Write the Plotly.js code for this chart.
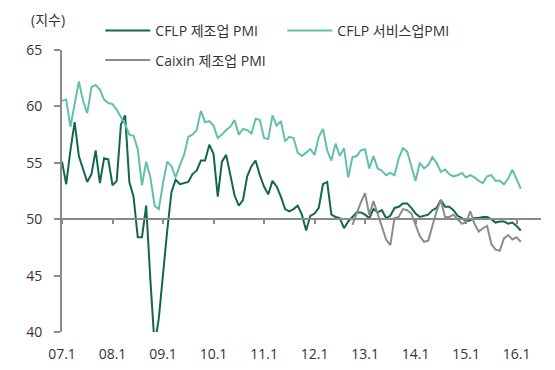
<!DOCTYPE html>
<html><head><meta charset="utf-8">
<script src="https://cdn.plot.ly/plotly-3.0.1.min.js"></script>
<style>html,body{margin:0;padding:0;background:#fff}#chart{width:555px;height:370px}</style>
</head><body><div id="chart"></div>
<script>
// Monthly categories 2007-01 .. 2016-02
const months = [];
for (let y = 2007; y <= 2016; y++) {
  for (let m = 1; m <= 12; m++) {
    if (y === 2016 && m > 2) break;
    months.push(y + '-' + String(m).padStart(2, '0'));
  }
}
const tickMonths = ['2007-01','2008-01','2009-01','2010-01','2011-01','2012-01','2013-01','2014-01','2015-01','2016-01'];
const tickLabels = ['07.1','08.1','09.1','10.1','11.1','12.1','13.1','14.1','15.1','16.1'];

const cflpMfg = [
  55.1,53.1,56.1,58.6,55.6,54.5,53.3,54.0,56.1,53.2,55.4,55.3,
  53.0,53.4,58.4,59.2,53.3,52.0,48.4,48.4,51.2,44.6,38.8,41.2,
  45.3,49.0,52.4,53.5,53.1,53.2,53.3,54.0,54.3,55.2,55.2,56.6,
  55.8,52.0,55.1,55.7,53.9,52.1,51.2,51.7,53.8,54.7,55.2,53.9,
  52.9,52.2,53.4,52.9,52.0,50.9,50.7,50.9,51.2,50.4,49.0,50.3,
  50.5,51.0,53.1,53.3,50.4,50.2,50.1,49.2,49.8,50.2,50.6,50.6,
  50.4,50.1,50.9,50.6,50.8,50.1,50.3,51.0,51.1,51.4,51.4,51.0,
  50.5,50.2,50.3,50.4,50.8,51.0,51.7,51.1,51.1,50.8,50.3,50.1,
  49.8,49.9,50.1,50.1,50.2,50.2,50.0,49.7,49.8,49.8,49.6,49.7,
  49.4,49.0
];
const cflpService = [
  60.5,60.6,58.2,60.3,62.2,60.5,59.4,61.7,61.9,61.5,60.6,60.3,
  60.2,59.7,59.0,58.4,57.5,57.4,56.2,53.0,55.1,53.7,51.2,50.9,
  53.2,55.1,54.7,53.7,54.8,55.7,57.3,57.5,57.9,59.6,58.6,58.7,
  58.3,57.2,57.5,57.9,58.2,58.8,57.5,58.0,57.9,57.6,58.9,58.8,
  57.2,57.1,59.2,58.3,58.7,56.9,57.3,57.2,55.9,55.6,55.9,56.2,
  55.7,57.3,58.0,56.1,55.2,56.7,55.6,56.3,53.7,55.5,55.6,56.1,
  56.2,54.5,55.6,54.5,54.3,53.9,54.1,53.9,55.4,56.3,56.0,54.6,
  53.4,55.0,54.5,54.8,55.5,55.0,54.2,54.4,54.0,53.8,53.9,54.1,
  53.7,53.9,53.7,53.4,53.2,53.8,53.9,53.4,53.4,53.1,53.6,54.4,
  53.5,52.7
];
const caixinStart = '2012-10';
const caixinMfg = [
  49.5,50.5,51.5,
  52.3,50.4,51.6,50.4,49.2,48.2,47.7,50.1,50.2,50.9,50.8,50.5,
  49.5,48.5,48.0,48.1,49.4,50.7,51.7,50.2,50.2,50.4,50.0,49.6,
  49.7,50.7,49.6,48.9,49.2,49.4,47.8,47.3,47.2,48.3,48.6,48.2,
  48.4,48.0
];

const caixinX = months.slice(months.indexOf(caixinStart), months.indexOf(caixinStart) + caixinMfg.length);
const tickIdx = tickMonths.map(t => months.indexOf(t));
const xRange = [0, 113.8];
const FONT = 'Open Sans, Noto Sans CJK KR, sans-serif';
const axisGray = '#8a8a8a';
const legendFont = {family: FONT, size: 14, color: '#333'};

const traces = [
  {x: months, y: cflpMfg, name: 'CFLP 제조업 PMI', type: 'scatter', mode: 'lines',
   line: {color: '#13664f', width: 2}, legend: 'legend'},
  {x: months, y: cflpService, name: 'CFLP 서비스업PMI', type: 'scatter', mode: 'lines',
   line: {color: '#62c0aa', width: 2}, legend: 'legend2'},
  {x: caixinX, y: caixinMfg, name: 'Caixin 제조업 PMI', type: 'scatter', mode: 'lines',
   line: {color: '#8c8c8c', width: 2}, legend: 'legend3'},
  {x: [tickIdx[0]], y: [null], xaxis: 'x2', yaxis: 'y', type: 'scatter', mode: 'lines',
   showlegend: false, hoverinfo: 'skip'}
];

function leg(x, y) {
  return {orientation: 'h', x: x, xanchor: 'left', y: y, yanchor: 'middle',
          itemwidth: 45, bgcolor: 'rgba(0,0,0,0)', font: legendFont};
}

const layout = {
  width: 555, height: 370,
  margin: {l: 62, r: 14, t: 50, b: 38},
  paper_bgcolor: '#fff', plot_bgcolor: '#fff',
  font: {family: FONT, size: 14, color: '#333'},
  showlegend: true,
  xaxis: {
    type: 'category', range: xRange,
    tickmode: 'array', tickvals: tickMonths, ticktext: tickLabels,
    ticks: 'outside', ticklen: 9, tickcolor: 'rgba(0,0,0,0)',
    showline: false, showgrid: false, zeroline: false,
    tickfont: {family: FONT, size: 14, color: '#333'}
  },
  xaxis2: {
    overlaying: 'x', anchor: 'free', position: 0.4, type: 'linear', range: xRange,
    tickmode: 'array', tickvals: tickIdx, showticklabels: false,
    ticks: 'outside', ticklen: 4, tickwidth: 2, tickcolor: axisGray,
    showline: true, linecolor: axisGray, linewidth: 2,
    showgrid: false, zeroline: false
  },
  yaxis: {
    range: [40, 65], tickmode: 'array', tickvals: [40, 45, 50, 55, 60, 65],
    ticks: 'outside', ticklen: 6, tickwidth: 2, tickcolor: axisGray,
    ticklabelstandoff: 9,
    showline: true, linecolor: axisGray, linewidth: 2,
    showgrid: false, zeroline: false,
    tickfont: {family: FONT, size: 14, color: '#333'}
  },
  legend: leg(0.08, 1.068),
  legend2: leg(0.46, 1.068),
  legend3: leg(0.08, 0.963),
  annotations: [
    {text: '(지수)', xref: 'paper', yref: 'paper', x: -0.029, y: 1.107,
     xanchor: 'center', yanchor: 'middle', showarrow: false,
     font: {family: FONT, size: 14, color: '#333'}}
  ]
};

Plotly.newPlot('chart', traces, layout, {displayModeBar: false, staticPlot: true});
</script>
</body></html>
